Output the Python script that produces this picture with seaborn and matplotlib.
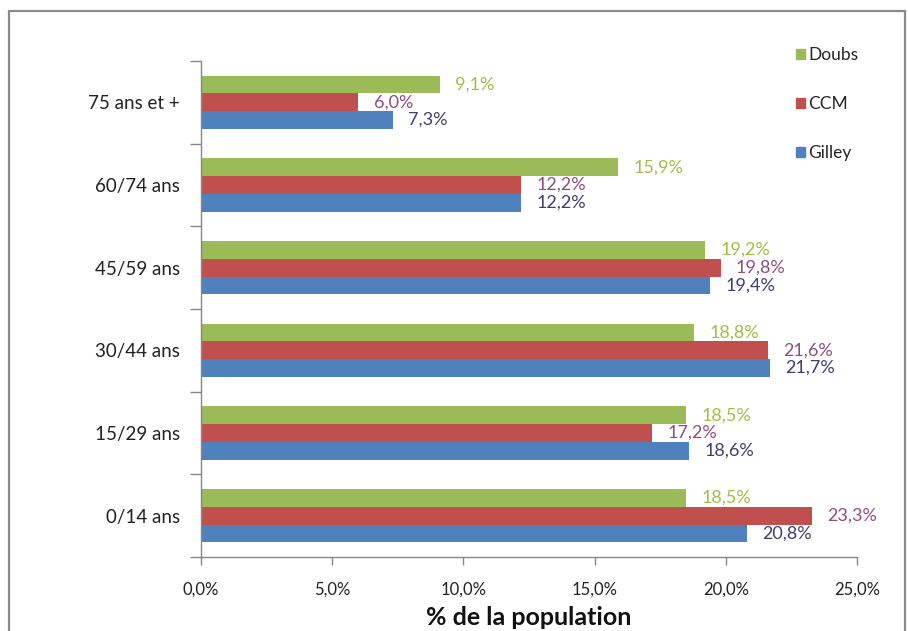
import matplotlib
matplotlib.use("Agg")
import matplotlib.pyplot as plt
import matplotlib.patches as mpatches
from matplotlib.ticker import FixedLocator, FuncFormatter
import seaborn as sns
import pandas as pd

categories = ["75 ans et +", "60/74 ans", "45/59 ans", "30/44 ans", "15/29 ans", "0/14 ans"]
series = ["Doubs", "CCM", "Gilley"]
doubs = [9.1, 15.9, 19.2, 18.8, 18.5, 18.5]
ccm = [6.0, 12.2, 19.8, 21.6, 17.2, 23.3]
gilley = [7.3, 12.2, 19.4, 21.7, 18.6, 20.8]
x_ticks = [0, 5, 10, 15, 20, 25]
x_label = "% de la population"

bar_colors = {"Doubs": "#9BBB59", "CCM": "#C0504D", "Gilley": "#4F81BD"}
label_colors = {"Doubs": "#A6BC45", "CCM": "#8E4E82", "Gilley": "#3F3F6E"}

rows = []
for name, vals in zip(series, [doubs, ccm, gilley]):
    for c, v in zip(categories, vals):
        rows.append({"cat": c, "serie": name, "val": v})
df = pd.DataFrame(rows)

sns.set_theme(style="white")
plt.rcParams["font.family"] = ["Lato", "DejaVu Sans"]

fig = plt.figure(figsize=(9.08, 6.31), dpi=100)
ax = fig.add_axes([201 / 908, 1 - 557 / 631, 656 / 908, 496 / 631])

sns.barplot(data=df, y="cat", x="val", hue="serie", order=categories,
            hue_order=series, palette=bar_colors, orient="h", width=0.645,
            gap=0, saturation=1, ax=ax, legend=False, edgecolor="none")

for cont, name in zip(ax.containers, series):
    vals = [p.get_width() for p in cont]
    labs = [f"{v:.1f}%".replace(".", ",") for v in vals]
    ax.bar_label(cont, labels=labs, padding=11, color=label_colors[name],
                 fontsize=13)

ax.set_xlim(0, 25)
ax.set_ylim(5.5, -0.5)
ax.xaxis.set_major_locator(FixedLocator(x_ticks))
ax.xaxis.set_major_formatter(FuncFormatter(lambda v, p: f"{v:.1f}%".replace(".", ",")))
ax.tick_params(axis="x", which="major", direction="out", length=6, width=1,
               color="#868686", labelsize=12, labelcolor="#222222", pad=12,
               bottom=True)
ax.tick_params(axis="y", which="major", length=0, labelsize=13.5,
               labelcolor="#222222", pad=15, left=True)
ax.set_yticks([i - 0.5 for i in range(len(categories) + 1)], minor=True)
ax.tick_params(axis="y", which="minor", direction="out", length=8, width=1,
               color="#868686", left=True)
ax.set_xlabel(x_label, fontsize=18, fontweight="bold", color="#111111", labelpad=6)
ax.set_ylabel("")

for s in ["top", "right"]:
    ax.spines[s].set_visible(False)
for s in ["left", "bottom"]:
    ax.spines[s].set_color("#868686")
    ax.spines[s].set_linewidth(1)

handles = [mpatches.Patch(color=bar_colors[n], label=n) for n in series]
fig.legend(handles=handles, loc="upper left", bbox_to_anchor=(789 / 908, 1 - 40 / 631),
           frameon=False, fontsize=12.5, handlelength=0.52, handleheight=0.52,
           handletextpad=0.2, labelspacing=1.9, borderaxespad=0)

border = mpatches.Rectangle((9 / 908, -0.05), (905 - 9) / 908, 1 - 11 / 631 + 0.05,
                            transform=fig.transFigure, fill=False,
                            edgecolor="#8a8a8a", linewidth=1.6)
fig.patches.append(border)

fig.savefig("out.png", dpi=100)
